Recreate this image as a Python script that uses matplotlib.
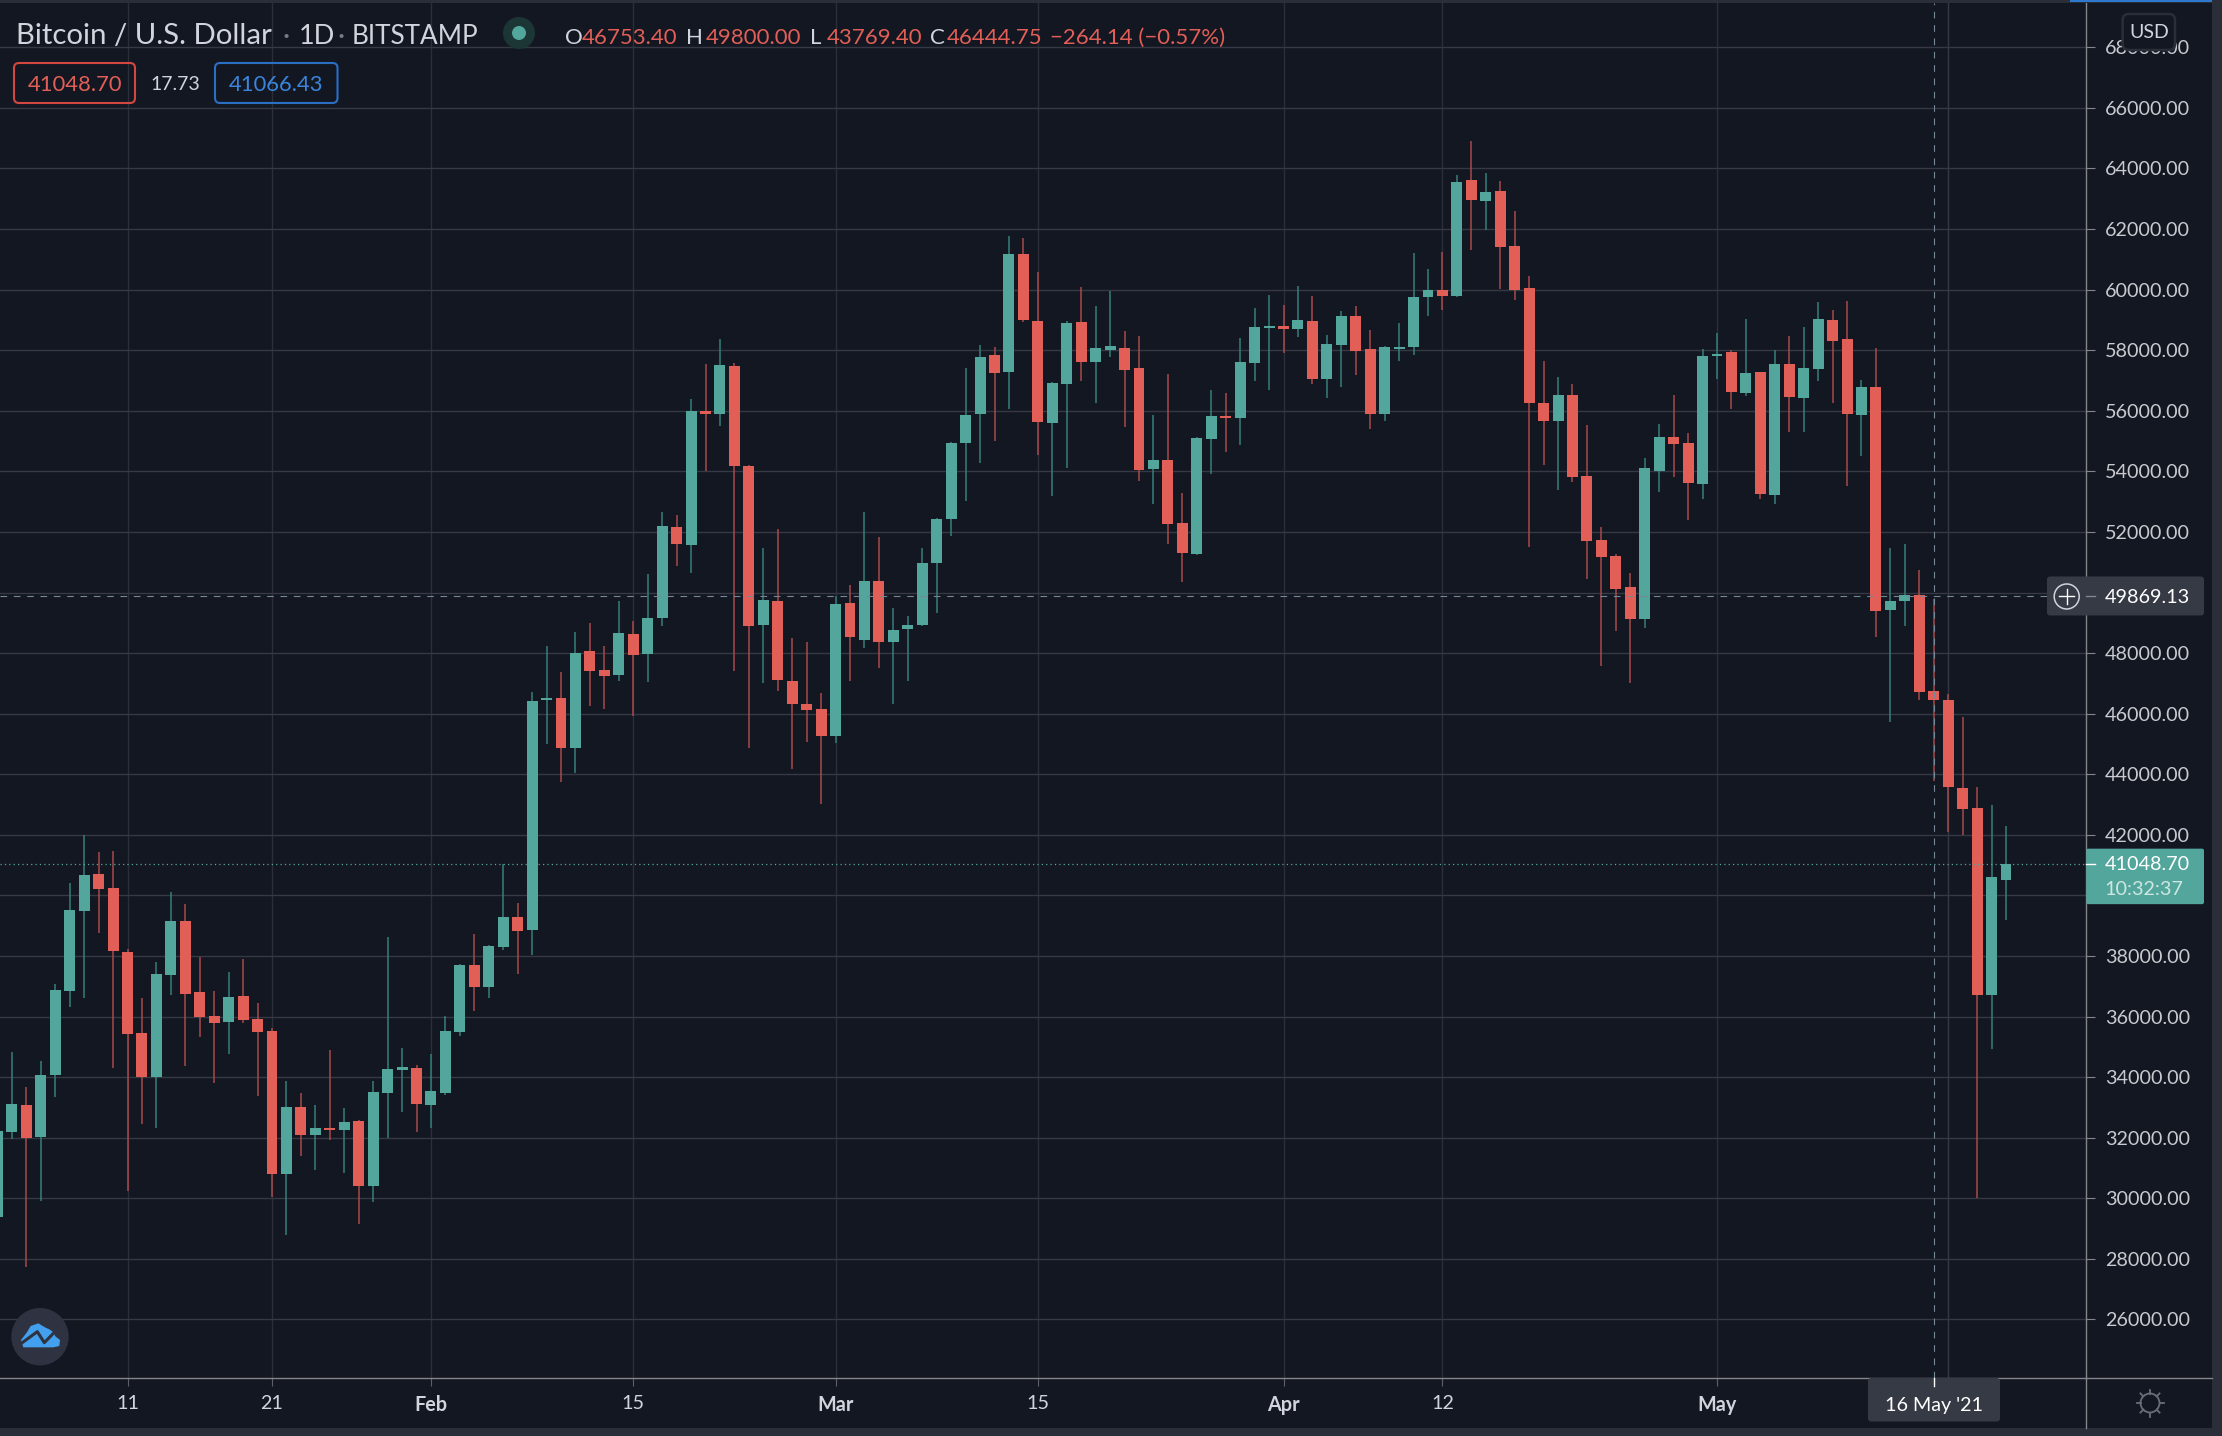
import matplotlib
matplotlib.use('Agg')
import matplotlib.pyplot as plt
from matplotlib.patches import FancyBboxPatch, Circle, Rectangle, Polygon
import numpy as np

plt.rcParams['font.family'] = ['Lato', 'DejaVu Sans']

# daily candles, 2 Jan to 21 May 2021
first_day = 2  # day of year of the first candle
opens = [
    # jan
    29383, 32188, 33068, 32023, 34058, 36841, 39481, 40691, 40229, 38139, 35444, 34003, 37369, 39140, 36797,
    36005, 35818, 36665, 35906, 35510, 30802, 33002, 32089, 32309, 32254, 32540, 30406, 33475, 34234, 34289,
    # feb
    33079, 33475, 35488, 37688, 36973, 38293, 39272, 38854, 46439, 46527, 44855, 48078, 47451, 47264,
    48639, 47957, 49145, 52170, 51554, 55998, 55910, 57483, 54183, 48914, 49728, 47088, 46329, 46164,
    # mar
    45251, 49662, 48419, 50388, 48353, 48782, 48914, 50960, 52412, 54920, 55910, 57846, 57290, 61173, 58962, 55607,
    56894, 58929, 57620, 58005, 58071, 57411, 54089, 54375, 52296, 51284, 55079, 55827, 55772, 57587, 58742,
    # apr
    58797, 58709, 58962, 57059, 58181, 59127, 58038, 55904, 58049, 58115, 59765, 59985, 59798, 63615, 62933,
    63252, 61437, 60051, 56256, 55673, 56513, 53840, 51728, 51200, 50177, 49132, 54016, 55127, 54929, 53587,
    # may
    57811, 57932, 56590, 57272, 53224, 57536, 56425, 57382, 58988, 58361, 55864, 56777, 49429, 49726, 49913,
    46753.40, 46444.75, 43551, 42894, 36724, 40515,
]
highs = [
    33000, 34817, 33662, 34520, 37061, 40394, 42011, 41417, 41450, 38238, 36621, 37787, 40097, 39701, 37952,
    36830, 37457, 37886, 36434, 35609, 33860, 33464, 33068, 34883, 32969, 32573, 33860, 38612, 34949, 34388,
    34751, 36005, 37721, 38733, 38348, 41021, 39734, 46725, 48243, 47385, 48705, 49002, 48243, 49728,
    49068, 50619, 52665, 52566, 56394, 57549, 58374, 57582, 54216, 51477, 52104, 48507, 48375, 46692,
    49893, 50256, 52665, 51840, 49497, 49233, 51477, 52450, 54960, 57417, 58176, 58110, 61767, 61701, 60579, 56949,
    58962, 60084, 59457, 59952, 58632, 58467, 55860, 57213, 53286, 55134, 56685, 56586, 58401, 59391, 59820,
    59490, 60117, 59787, 58500, 59292, 59457, 58665, 58137, 58896, 61206, 60678, 61239, 63780, 64902, 63846,
    63582, 62592, 60447, 57642, 57114, 56876, 55523, 52157, 51266, 50639, 54434, 55556, 56513, 55259, 58031,
    58559, 57998, 59021, 57272, 57998, 58460, 58757, 59582, 59318, 59615, 57008, 58064, 51464, 51596, 50738,
    49800.00, 46660, 45888, 43593, 42992, 42292,
]
lows = [
    29000, 31957, 27733, 29911, 33343, 36313, 36610, 38755, 34300, 30241, 32452, 32320, 36709, 34366, 35323,
    33805, 34762, 35800, 33376, 30032, 28789, 31396, 30934, 31924, 30835, 29152, 29878, 31990, 32848, 32188,
    32320, 33409, 35356, 36181, 36610, 38183, 37402, 38018, 44987, 43733, 44030, 46241, 46142, 47066,
    45911, 47033, 48881, 50861, 50630, 53996, 55514, 47396, 44855, 47000, 46736, 44162, 45053, 43007,
    45020, 47066, 48155, 47495, 46307, 47066, 48900, 49310, 51851, 53006, 54260, 54986, 56069, 58940, 54551, 53198,
    54122, 56993, 56267, 57785, 55475, 53693, 52934, 51614, 50360, 51251, 53924, 54650, 54881, 56993, 56696,
    57917, 58445, 56894, 56432, 56795, 57191, 55409, 55673, 57653, 57851, 59138, 59336, 59765, 61316, 61976,
    60029, 59655, 51515, 54221, 53396, 53653, 50452, 47581, 48736, 47020, 48835, 53323, 53818, 52399, 53092,
    57041, 56062, 56491, 53092, 52927, 55303, 55303, 56986, 56260, 53521, 54511, 48538, 45733, 48901, 46459,
    43769.40, 42082, 41984, 30000, 34919, 39200,
]
closes = [
    32210, 33101, 31990, 34058, 36863, 39503, 40658, 40207, 38161, 35422, 34003, 37391, 39140, 36742, 35983,
    35785, 36632, 35884, 35488, 30802, 33002, 32089, 32309, 32243, 32507, 30406, 33497, 34256, 34322, 33112,
    33530, 35510, 37688, 36973, 38315, 39272, 38821, 46428, 46527, 44855, 48012, 47396, 47231, 48672,
    47924, 49167, 52203, 51587, 55998, 55910, 57516, 54161, 48881, 49761, 47099, 46307, 46109, 45251,
    49629, 48518, 50388, 48353, 48771, 48936, 50982, 52434, 54942, 55866, 57780, 57263, 61173, 59006, 55640, 56916,
    58896, 57620, 58071, 58137, 57356, 54056, 54375, 52274, 51317, 55101, 55827, 55772, 57609, 58764, 58797,
    58709, 58995, 57059, 58203, 59127, 57983, 55904, 58104, 58093, 59754, 59985, 59798, 63549, 62966, 63219,
    61415, 59985, 56267, 55673, 56520, 53818, 51706, 51178, 50122, 49132, 54104, 55127, 54907, 53620, 57800,
    57866, 56623, 57239, 53257, 57536, 56458, 57404, 59021, 58306, 55897, 56777, 49396, 49715, 49913, 46723,
    46444.75, 43579, 42838, 36724, 40599, 41048.70,
]

price_ticks = np.arange(26000, 68001, 2000)
hidden_price = 40000  # sits behind the last price label
date_ticks = [11, 21, 32, 46, 60, 74, 91, 102, 121]
date_labels = ['11', '21', 'Feb', '15', 'Mar', '15', 'Apr', '12', 'May']
month_labels = ['Feb', 'Mar', 'Apr', 'May']
last_price = 41048.70
cross_price = 49869.13
cross_day = 136

W, H = 2222, 1436
BG = '#131722'
PANEL = '#2a2e39'
LABEL_BG = '#363a45'
AXIS = '#85868a'
TEXT = '#d1d4dc'
GREEN = '#53a69b'
RED = '#e15f57'
GREEN_WICK = '#357f79'
RED_WICK = '#a84a4a'
CROSS = '#758696'

days = np.arange(first_day, first_day + len(opens))
opens = np.array(opens)
closes = np.array(closes)
highs = np.array(highs)
lows = np.array(lows)
up = closes >= opens

fig = plt.figure(figsize=(W / 100, H / 100), dpi=100, facecolor=BG)

# chart area runs from the left edge to the price axis
ax = fig.add_axes([0, (H - 1378.3) / H, 2086.3 / W, (1378.3 - 3) / H], facecolor=BG)
ax.set_xlim(11 - 127.5 / 14.45, 11 + (2086.3 - 127.5) / 14.45)
ax.set_ylim(68000 - (1378.3 - 47.3) / 0.03029, 68000 + (47.3 - 3) / 0.03029)

for s in ['top', 'left']:
    ax.spines[s].set_visible(False)
for s in ['right', 'bottom']:
    ax.spines[s].set_color(AXIS)
    ax.spines[s].set_linewidth(1.0)

ax.set_axisbelow(True)
ax.yaxis.tick_right()
ax.set_yticks(price_ticks)
ax.set_yticklabels(['' if p == hidden_price else '%.2f' % p for p in price_ticks])
ax.set_xticks(date_ticks)
ax.set_xticklabels(date_labels)
ax.tick_params(axis='y', length=6.5, width=0.8, color=AXIS, labelcolor='#c8cad0', labelsize=14.2, pad=7)
ax.tick_params(axis='x', length=6, width=0.8, color='#5d606b', labelcolor=TEXT, labelsize=14.2, pad=6)
for lab in ax.get_xticklabels():
    if lab.get_text() in month_labels:
        lab.set_fontweight('bold')

ax.grid(axis='y', color='#363944', linewidth=1.0)
ax.grid(axis='x', color='#2c2f3a', linewidth=1.0)
ax.axvline(cross_day + 1, color='#363944', linewidth=1.0, zorder=0.5)

# candles
ax.vlines(days[up], lows[up], highs[up], color=GREEN_WICK, linewidth=1.1, zorder=2)
ax.vlines(days[~up], lows[~up], highs[~up], color=RED_WICK, linewidth=1.1, zorder=2)
ax.bar(days[up], (closes - opens)[up], bottom=opens[up], width=0.76, color=GREEN, linewidth=0, zorder=3)
ax.bar(days[~up], (closes - opens)[~up], bottom=opens[~up], width=0.76, color=RED, linewidth=0, zorder=3)

# last price and crosshair
ax.axhline(last_price, color=GREEN, linewidth=0.9, linestyle=(0, (1, 2.5)), zorder=4)
ax.axhline(cross_price, color=CROSS, linewidth=0.8, linestyle=(0, (6, 6)), zorder=4)
ax.axvline(cross_day, color=CROSS, linewidth=0.8, linestyle=(0, (6, 6)), zorder=4)

# overlay in screen pixels for the chart furniture
ui = fig.add_axes([0, 0, 1, 1], facecolor='none', zorder=10)
ui.set_xlim(0, W)
ui.set_ylim(H, 0)
ui.axis('off')


def price_px(p):
    return H - ax.transData.transform((0, p))[1]


def label_box(x0, y0, x1, y1, face, edge='none', lw=0, rad=3):
    ui.add_patch(FancyBboxPatch((x0 + rad, y0 + rad), x1 - x0 - 2 * rad, y1 - y0 - 2 * rad,
                                boxstyle='round,pad=%d,rounding_size=%d' % (rad, rad),
                                facecolor=face, edgecolor=edge, linewidth=lw))


# outer frame bands
ui.add_patch(Rectangle((0, 0), W, 3, facecolor=PANEL, linewidth=0))
ui.add_patch(Rectangle((2070, 0), 142, 2, facecolor='#2f78d0', linewidth=0))
ui.add_patch(Rectangle((2212, 0), 10, H, facecolor=PANEL, linewidth=0))
ui.add_patch(Rectangle((0, 1428), W, 8, facecolor=PANEL, linewidth=0))
ui.plot([2086, 2212], [1378.3, 1378.3], color=AXIS, linewidth=1.0)
ui.plot([2086.3, 2086.3], [1378, 1428], color=AXIS, linewidth=1.0)

# title row
ui.text(16, 36, 'Bitcoin / U.S. Dollar', color=TEXT, fontsize=21.2, va='center')
ui.text(286, 36, '·', color='#787b86', fontsize=20, va='center', ha='center')
ui.text(299, 36, '1D', color=TEXT, fontsize=19.5, va='center')
ui.text(341, 36, '·', color='#787b86', fontsize=20, va='center', ha='center')
ui.text(352, 36, 'BITSTAMP', color=TEXT, fontsize=18.8, va='center')
ui.add_patch(Circle((519, 33), 16, facecolor='#1c3535', linewidth=0))
ui.add_patch(Circle((519, 33), 7, facecolor=GREEN, linewidth=0))

ohlc_text = [(565, 'O', TEXT), (582, '46753.40', RED), (686, 'H', TEXT), (706, '49800.00', RED),
             (810, 'L', TEXT), (827, '43769.40', RED), (930, 'C', TEXT), (947, '46444.75', RED),
             (1050, '−264.14 (−0.57%)', RED)]
for x, s, c in ohlc_text:
    ui.text(x, 37.5, s, color=c, fontsize=16, va='center')

# bid / ask boxes
label_box(14, 63, 135, 103, 'none', '#d2473f', 1.5, rad=5)
ui.text(75, 85, '41048.70', color=RED, fontsize=15.8, va='center', ha='center')
ui.text(175, 85, '17.73', color=TEXT, fontsize=14, va='center', ha='center')
label_box(215, 63, 337.5, 103, 'none', '#2a6fc4', 1.5, rad=5)
ui.text(276, 85, '41066.43', color='#3a85dc', fontsize=15.8, va='center', ha='center')

# USD button sits over the top tick label
label_box(2122.7, 14, 2175, 50, BG, '#2a2e39', 1.8, rad=6)
ui.text(2149, 33, 'USD', color=TEXT, fontsize=14, va='center', ha='center')

# crosshair price label
yc = price_px(cross_price)
label_box(2047, yc - 20, 2204, yc + 19, LABEL_BG)
ui.add_patch(Circle((2066.7, yc), 12.5, facecolor='none', edgecolor=TEXT, linewidth=1.1))
ui.plot([2059, 2074], [yc, yc], color='white', linewidth=1.0)
ui.plot([2066.7, 2066.7], [yc - 7.5, yc + 7.5], color='white', linewidth=1.0)
ui.plot([2086, 2095], [yc, yc], color=AXIS, linewidth=1.0)
ui.text(2104.5, yc + 1, '%.2f' % cross_price, color='white', fontsize=14.2, va='center')

# last price label with countdown
yl = price_px(last_price)
label_box(2086.3, yl - 15, 2204, yl + 40.5, GREEN, rad=2)
ui.plot([2086, 2095], [yl, yl], color='white', linewidth=1.0)
ui.text(2104.5, yl + 1, '%.2f' % last_price, color='white', fontsize=14.2, va='center')
ui.text(2104.5, yl + 26, '10:32:37', color='#cfe6e2', fontsize=14.2, va='center')

# crosshair date label
xc = ax.transData.transform((cross_day, 0))[0]
label_box(1868, 1378, 2000, 1421.5, LABEL_BG)
ui.plot([xc, xc], [1378, 1386], color='white', linewidth=1.0)
ui.text(1934, 1405, "16 May '21", color='white', fontsize=14.2, va='center', ha='center')

# settings icon
gx, gy = 2150, 1403
ui.add_patch(Circle((gx, gy), 9.5, facecolor='none', edgecolor='#6a6e7a', linewidth=1.3))
for a in np.arange(0, 360, 45):
    r = np.radians(a)
    ui.plot([gx + 9.5 * np.cos(r), gx + 13.5 * np.cos(r)], [gy + 9.5 * np.sin(r), gy + 13.5 * np.sin(r)],
            color='#6a6e7a', linewidth=1.3)

# logo button
ui.add_patch(Circle((40, 1336.7), 28.7, facecolor='#2f3240', linewidth=0))
cloud = np.array([[63, 150], [80, 128], [92, 108], [115, 100], [135, 112], [148, 118], [162, 128],
                  [165, 138], [180, 150], [178, 168], [160, 172], [70, 172]]) / 3.0 + [0, 1290]
ui.add_patch(Polygon(cloud, closed=True, facecolor='#42a0ee', linewidth=0))
zig = np.array([[60, 163], [112, 125], [133, 158], [165, 125]]) / 3.0 + [0, 1290]
ui.plot(zig[:, 0], zig[:, 1], color='#2f3240', linewidth=2.2)

fig.savefig('out.png', dpi=100, facecolor=BG)
